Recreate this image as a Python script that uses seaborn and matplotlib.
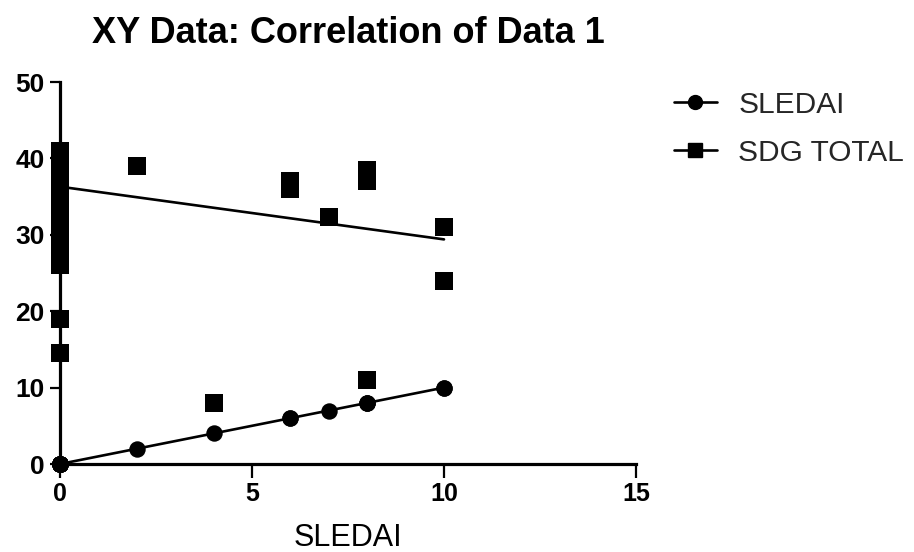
import numpy as np
import pandas as pd
import matplotlib
matplotlib.use("Agg")
import matplotlib.pyplot as plt
from matplotlib.lines import Line2D
import seaborn as sns

# Per-patient values: SLEDAI score (x) and SDG total score
sledai = [0, 0, 0, 0, 0, 0, 0, 0, 0, 0, 0, 0, 0, 0, 0, 0, 0, 0,
          2, 4, 6, 6, 7, 8, 8, 8, 10, 10]
sdg_total = [41, 40, 39, 38, 37, 36, 35, 34, 33, 32, 31, 30, 29, 28, 27, 26, 19, 14.5,
             39, 8, 37, 36, 32.3, 38.5, 37, 11, 31, 24]

# Linear fit of SDG TOTAL vs SLEDAI (intercept, slope) as reported
sdg_fit_intercept = 36.3
sdg_fit_slope = -0.69

series_labels = ["SLEDAI", "SDG TOTAL"]
title = "XY Data: Correlation of Data 1"
x_label = "SLEDAI"
x_ticks = [0, 5, 10, 15]
y_ticks = [0, 10, 20, 30, 40, 50]

df = pd.DataFrame({"sledai": sledai, "sdg": sdg_total})
df["sledai_y"] = df["sledai"]

sns.set_theme(style="ticks")
plt.rcParams["font.family"] = ["Liberation Sans", "DejaVu Sans"]

fig = plt.figure(figsize=(9.14, 5.52), dpi=100)
ax = fig.add_axes([60 / 914, 1 - 464 / 552, 576 / 914, 382 / 552])

# fit lines over the observed SLEDAI range
x_fit = np.array([min(sledai), max(sledai)], dtype=float)
sl_coef = np.polyfit(df["sledai"], df["sledai_y"], 1)
sns.lineplot(x=x_fit, y=np.polyval(sl_coef, x_fit), ax=ax, color="black",
             linewidth=1.9, zorder=2)
sns.lineplot(x=x_fit, y=sdg_fit_intercept + sdg_fit_slope * x_fit, ax=ax,
             color="black", linewidth=1.9, zorder=2)

sns.scatterplot(data=df, x="sledai", y="sledai_y", ax=ax, marker="o", s=140,
                color="black", edgecolor="black", linewidth=0, zorder=4,
                clip_on=False)
sns.scatterplot(data=df, x="sledai", y="sdg", ax=ax, marker="s", s=160,
                color="black", edgecolor="black", linewidth=0, zorder=4,
                clip_on=False)

ax.set_xlim(0, 15)
ax.set_ylim(0, 50)
ax.set_xticks(x_ticks)
ax.set_yticks(y_ticks)
ax.set_xticklabels([str(t) for t in x_ticks], fontsize=18, fontweight="bold")
ax.set_yticklabels([str(t) for t in y_ticks], fontsize=19, fontweight="bold")
ax.tick_params(axis="x", length=10, width=1.6, direction="out", pad=3, colors="black")
ax.tick_params(axis="y", length=7, width=1.6, direction="out", pad=4, colors="black")
for side in ["top", "right"]:
    ax.spines[side].set_visible(False)
for side in ["left", "bottom"]:
    ax.spines[side].set_linewidth(2.3)
    ax.spines[side].set_color("black")
    ax.spines[side].set_zorder(3)

ax.set_xlabel(x_label, fontsize=22, labelpad=12, color="black")
ax.set_ylabel("")
ax.set_title(title, fontsize=26, fontweight="bold", pad=28, color="black")

handles = [
    Line2D([], [], color="black", linewidth=1.9, marker="o", markersize=10),
    Line2D([], [], color="black", linewidth=1.9, marker="s", markersize=10),
]
fig.legend(handles, series_labels, loc="upper left", bbox_to_anchor=(0.737, 0.836),
           frameon=False, fontsize=21.5, handlelength=1.45, handletextpad=0.72,
           labelspacing=0.68, borderpad=0, borderaxespad=0)

fig.savefig("out.png", dpi=100, facecolor="white")
